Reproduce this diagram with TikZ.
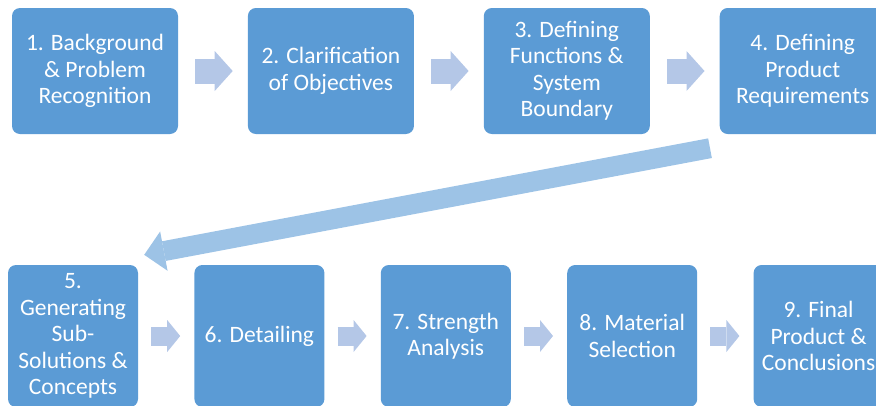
\documentclass[tikz,border=0pt]{standalone}
\usepackage{fontspec}
\setmainfont{Carlito}
\usetikzlibrary{positioning, calc, arrows.meta}
\definecolor{stageblue}{HTML}{5B9BD5}
\definecolor{chevronblue}{HTML}{B4C7E7}
\definecolor{backblue}{HTML}{9DC3E6}

\begin{document}
\begin{tikzpicture}[x=1pt, y=1pt,
    stage/.style={rectangle,rounded corners=8pt,fill=stageblue,text=white,align=center,inner sep=0pt,font=\fontsize{23.5}{26.5}\selectfont},
    upper stage/.style={stage,minimum width=166pt,minimum height=126pt},
    lower stage/.style={stage,minimum width=130pt,minimum height=142pt},
    chevron/.style={chevronblue,line width=25pt,shorten <=17pt,shorten >=15pt,-{Triangle[length=18pt,width=40pt,line width=0pt]}},
    small chevron/.style={chevronblue,line width=19pt,shorten <=13pt,shorten >=14pt,-{Triangle[length=13pt,width=32pt,line width=0pt]}},
    back arrow/.style={backblue,line width=20pt,-{Triangle[length=20pt,width=40pt,line width=0pt]}}]

    \path[use as bounding box, clip] (0,0) rectangle (876,-405);

    \node[upper stage] (s1) at (95,-71) {1. Background\\\& Problem\\Recognition};
    \node[upper stage, right=69.5pt of s1] (s2) {2. Clarification\\of Objectives};
    \node[upper stage, right=69.5pt of s2] (s3) {3. Defining\\Functions \&\\System\\Boundary};
    \node[upper stage, right=69.5pt of s3] (s4) {4. Defining\\Product\\Requirements};

    \node[lower stage] (s5) at (73,-336) {5.\\Generating\\Sub-\\Solutions \&\\Concepts};
    \node[lower stage, right=56pt of s5] (s6) {6. Detailing};
    \node[lower stage, right=56pt of s6] (s7) {7. Strength\\Analysis};
    \node[lower stage, right=56pt of s7] (s8) {8. Material\\Selection};
    \node[lower stage, right=56pt of s8] (s9) {9. Final\\Product \&\\Conclusions};

    \draw[chevron] (s1.east) -- (s2.west);
    \draw[chevron] (s2.east) -- (s3.west);
    \draw[chevron] (s3.east) -- (s4.west);

    \draw[back arrow] ($(s4.south west)+(-9.5,-14)$) -- ($(s5.north east)+(6,10)$);

    \draw[small chevron] (s5.east) -- (s6.west);
    \draw[small chevron] (s6.east) -- (s7.west);
    \draw[small chevron] (s7.east) -- (s8.west);
    \draw[small chevron] (s8.east) -- (s9.west);
\end{tikzpicture}
\end{document}
